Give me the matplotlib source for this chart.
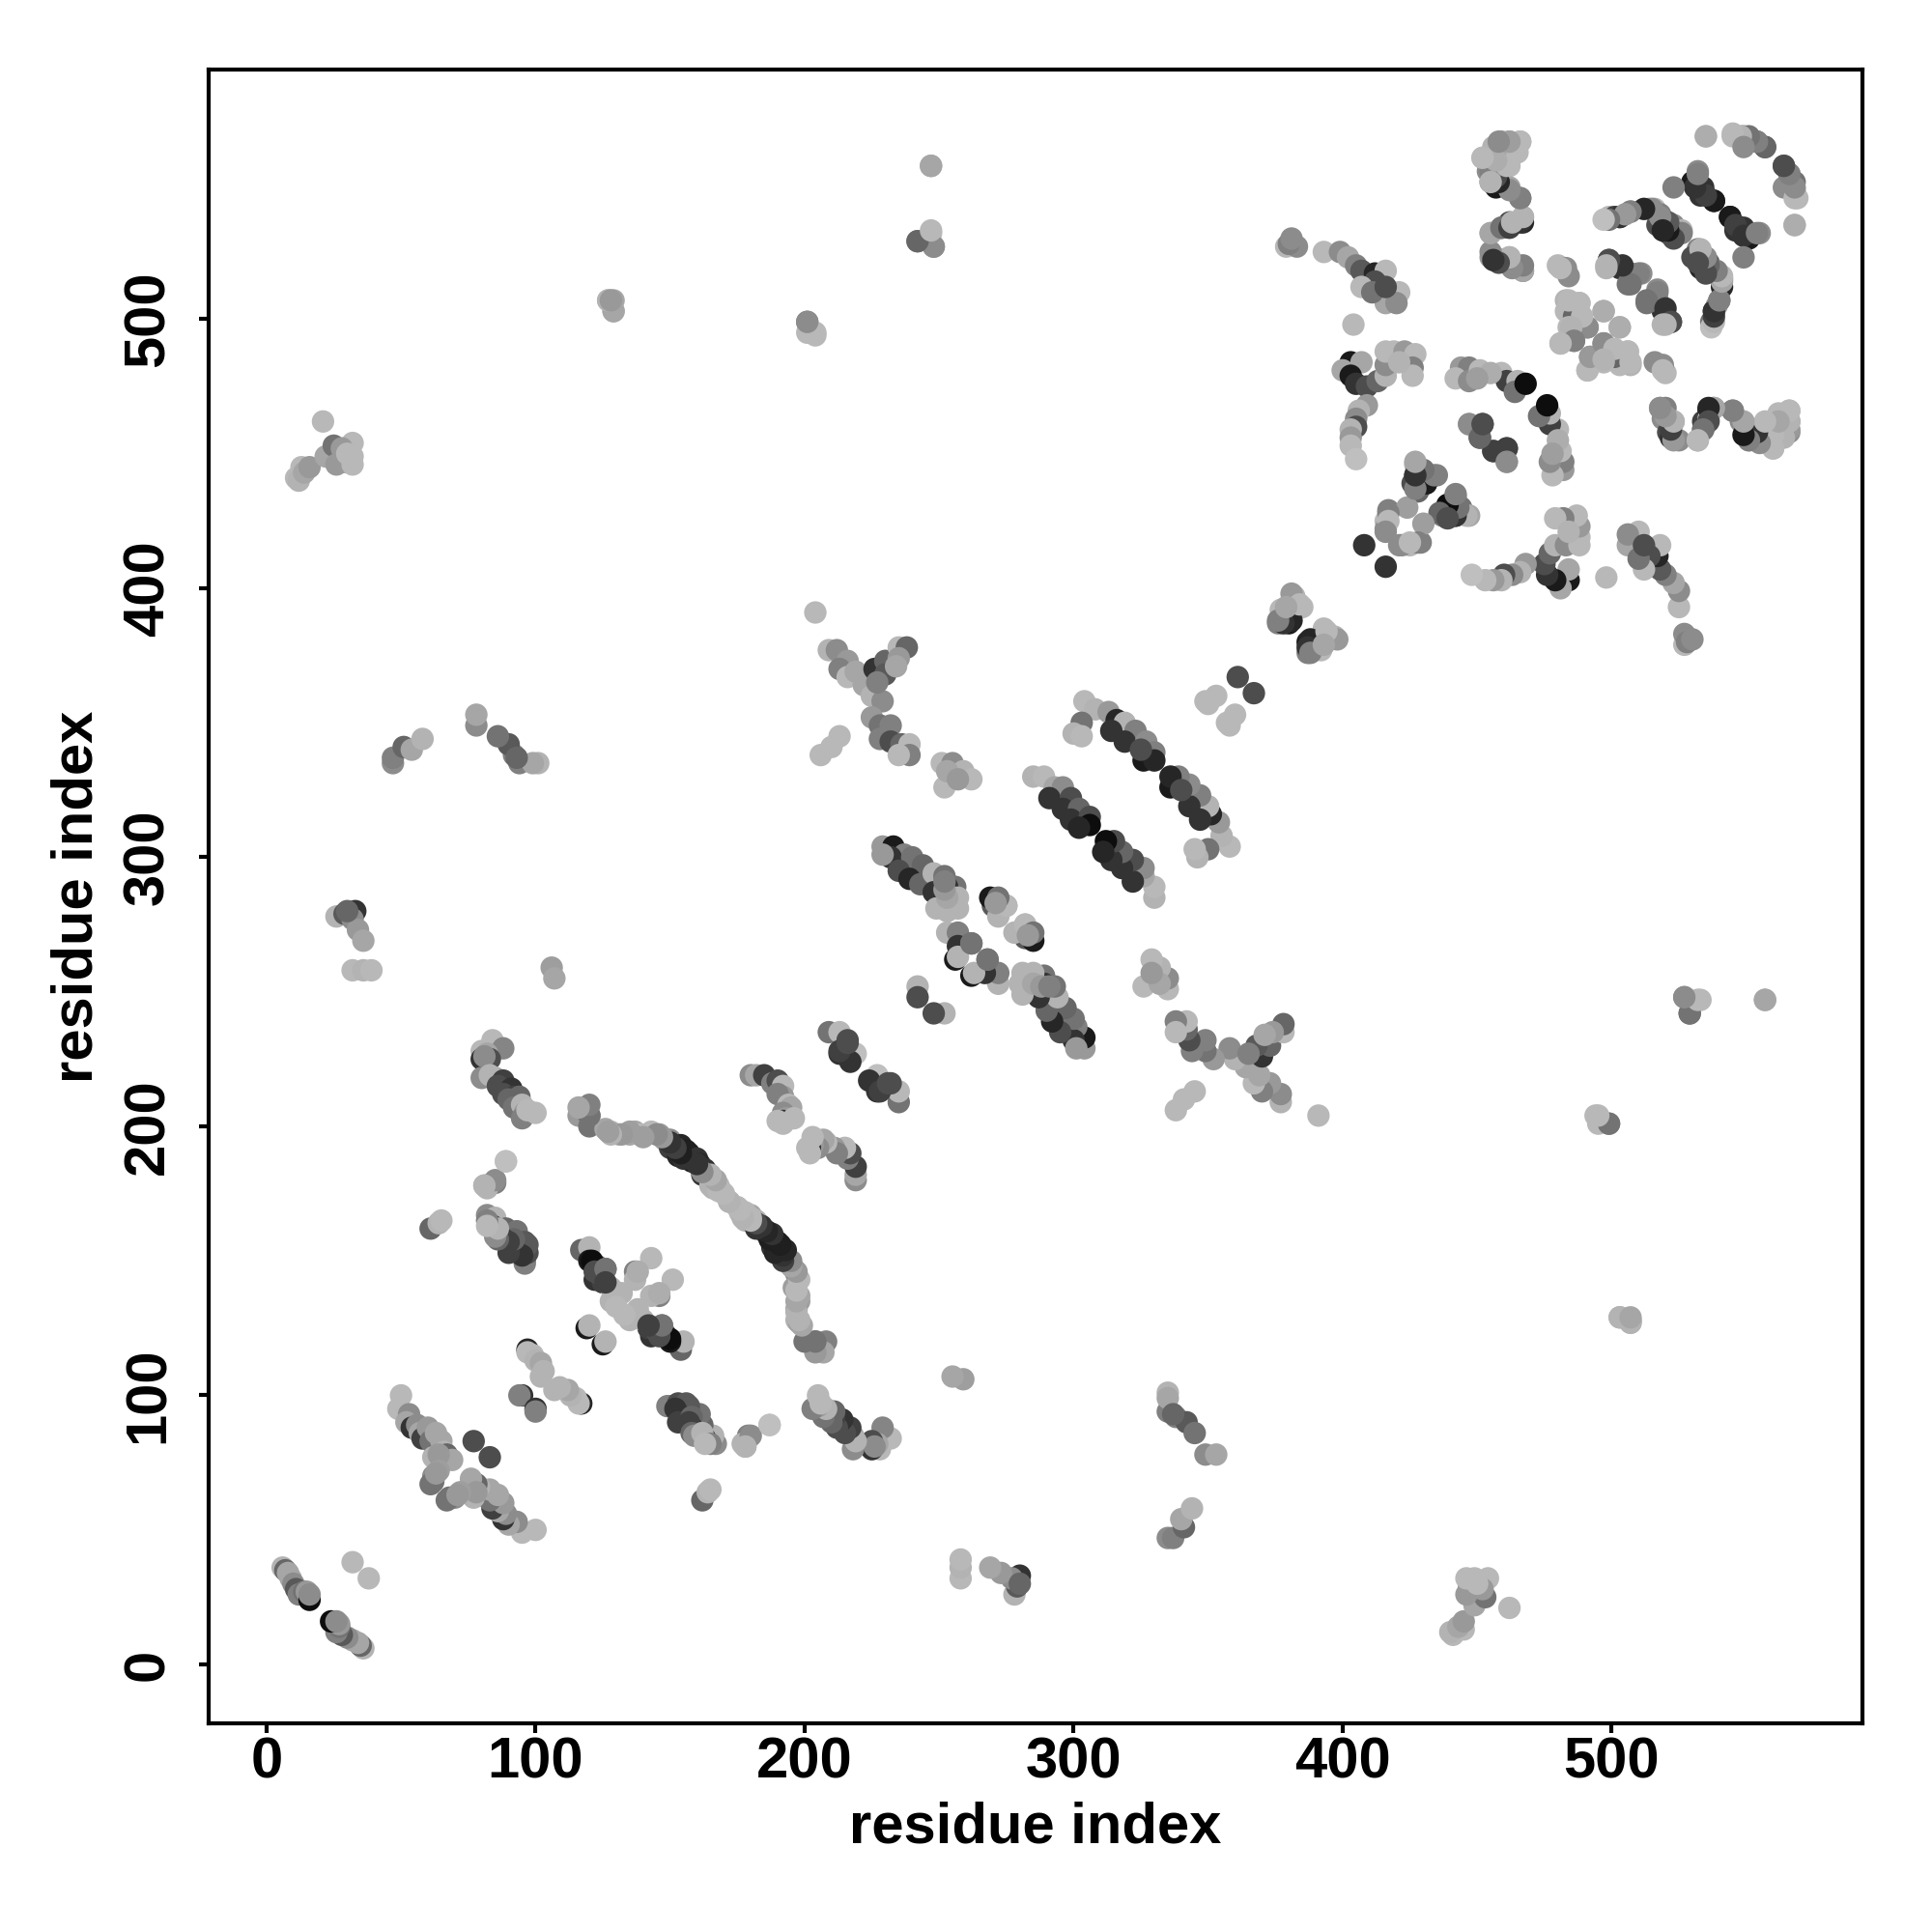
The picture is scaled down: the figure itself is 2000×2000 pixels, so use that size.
import numpy as np
import matplotlib
matplotlib.use("Agg")
import matplotlib.pyplot as plt

# Contact map: each entry is (residue a, residue b, grey level). The map is symmetric.
hairpin_start = [(6,36,.7),(7,35,.4),(8,34,.65),(9,32,.65),(10,30,.55),(11,28,.35),(12,26,.5),(14,27,.45),(15,27,.6),(16,24,.05),(16,26,.55),(32,38,.72)]
sheet_50_100 = [(50,100,.72),(49,95,.72),(53,93,.55),(52,90,.65),(54,88,.2),(56,89,.55),(57,86,.65),(58,84,.25),(60,88,.6),(61,83,.45),(63,86,.65),(65,83,.65),(66,79,.7),(67,78,.4),(69,76,.65),(62,77,.7),(64,78,.6),(62,70,.55),(61,67,.45),(64,72,.62),(62,68,.45),(63,71,.6),(77,83,.3)]
sheet_85_220 = [(84,232,.72),(88,229,.52),(80,228,.72),(82,227,.65),(80,225,.2),(83,225,.3),(81,226,.55),(80,218,.55),(85,218,.65),(83,219,.7),(88,217,.25),(86,215,.3),(91,214,.2),(88,212,.3),(92,211,.25),(94,211,.4),(90,210,.4),(92,207,.45),(95,208,.7),(96,205,.6),(95,203,.5),(97,206,.72),(100,205,.72)]
arc_120_165 = [(116,204,.6),(120,204,.45),(120,200,.45),(126,199,.65),(128,198,.7),(131,197,.7),(135,197,.65),(137,198,.65),(139,197,.72),(143,198,.72),(146,197,.6),(148,195,.65),(150,195,.55),(150,192,.25),(152,192,.2),(154,193,.15),(153,189,.15),(156,191,.12),(157,190,.12),(158,187,.12),(160,188,.2),(161,186,.15),(163,184,.2),(162,182,.2),(164,182,.3),(165,180,.72),(166,180,.72),(168,178,.72),(166,177,.7),(169,176,.72),(172,172,.7),(175,170,.72),(178,165,.7),(176,168,.72),(180,167,.65),(182,165,.7),(183,162,.55),(186,160,.2),(188,155,.2),(190,154,.12),(192,152,.25),(194,150,.2),(196,147,.6),(197,145,.55),(196,140,.62),(198,135,.62),(197,132,.6),(197,128,.7),(198,127,.62),(204,120,.45),(208,120,.5),(207,116,.65)]
sheet_150_90 = [(61,162,.4),(64,164,.7),(65,165,.72),(89,187,.75),(85,179,.5),(81,178,.7),(82,178,.65),(82,167,.55),(85,166,.7),(84,163,.2),(88,160,.05),(89,162,.4),(93,161,.45),(92,157,.2),(96,157,.35),(96,154,.45),(96,150,.5)]
sheet_120_150 = [(117,154,.4),(120,155,.7),(120,150,.1),(123,148,.3),(126,147,.5),(122,143,.2),(125,142,.25),(128,140,.7),(132,138,.7),(128,135,.7),(124,145,.35),(121,150,.05),(122,146,.3),(126,147,.45),(126,142,.25),(137,146,.5),(137,143,.7),(143,151,.72),(138,146,.68),(119,125,.1),(120,126,.7),(130,133,.72)]
sheet_96_117 = [(97,117,.15),(97,116,.72),(99,115,.72),(100,113,.7),(102,112,.65),(103,109,.7),(102,107,.7),(95,100,.2),(94,100,.5)]
sheet_90_160 = [(96,149,.5),(97,153,.3),(97,156,.35),(95,152,.2),(92,155,.2),(90,153,.25),(92,158,.4),(88,158,.1),(90,157,.25),(86,158,.4),(85,159,.55),(86,162,.7),(82,165,.5),(82,163,.72),(82,177,.7),(85,180,.55),(81,178,.7),(89,187,.75)]
x_210_378 = [(209,377,.7),(212,377,.55),(216,373,.6),(213,370,.5),(216,367,.72),(219,369,.65),(222,364,.65),(225,360,.7),(229,358,.55),(225,352,.6),(228,349,.45),(232,349,.5),(228,344,.5),(232,343,.3),(236,342,.4),(239,342,.72),(239,338,.5),(235,338,.72),(226,370,.2),(230,373,.4),(230,368,.35),(235,378,.72),(238,378,.4),(235,374,.6),(227,365,.5),(234,371,.65),(213,345,.72),(210,341,.72),(206,338,.72),(204,391,.72)]
patch_255_330 = [(251,335,.72),(255,335,.55),(259,332,.7),(262,329,.72),(252,326,.72),(253,332,.65),(257,329,.6)]
sheet_230_304 = [(229,304,.6),(233,304,.1),(237,301,.5),(232,300,.2),(240,300,.45),(244,297,.4),(235,295,.3),(239,292,.15),(243,290,.4),(248,294,.7),(252,293,.45),(256,289,.45),(253,289,.2),(257,285,.7),(248,287,.2),(257,281,.7),(249,281,.7),(253,280,.7),(253,285,.65),(252,288,.6),(252,291,.5),(229,301,.6)]
patch_270_285 = [(271,284,.45),(275,282,.72),(272,279,.65),(270,282,.35),(272,278,.7),(275,282,.72),(269,285,.1),(272,285,.45),(271,283,.6)]
cross_263 = [(253,272,.7),(257,272,.5),(257,267,.2),(262,268,.45),(256,262,.1),(257,263,.7),(262,268,.45),(242,252,.7),(242,248,.3)]
sheet_285_330 = [(285,330,.7),(289,330,.72),(293,326,.65),(296,326,.55),(291,322,.2),(299,322,.3),(296,318,.2),(302,318,.4),(299,314,.2),(306,315,.3),(306,312,.05),(302,311,.15)]
sheet_304_358 = [(304,358,.72),(308,355,.7),(313,354,.6),(316,351,.15),(319,350,.7),(314,347,.2),(323,347,.5),(319,343,.2),(327,343,.55),(330,339,.5),(326,336,.1),(330,336,.15),(325,340,.3),(303,350,.45),(300,346,.7),(303,345,.72)]
band_209_235 = [(209,235,.45),(213,235,.72),(216,232,.3),(213,227,.2),(216,228,.3),(219,227,.75),(217,224,.2),(213,228,.25),(216,231,.3)]
band_180_219 = [(180,219,.55),(182,219,.65),(185,219,.25),(188,216,.5),(190,217,.3),(192,215,.72),(192,211,.6),(190,212,.5),(194,208,.72),(195,207,.65),(192,205,.55),(193,203,.6),(192,202,.2),(196,203,.72),(190,202,.72),(192,201,.72)]
strand_349_368 = [(361,367,.3),(349,358,.72),(353,360,.72),(350,357,.72)]
patch_380_395 = [(382,397,.7),(385,393,.72),(377,392,.72),(380,390,.7),(380,387,.1),(376,387,.5),(381,398,.6),(381,388,.15),(378,387,.2),(376,388,.5),(384,394,.72),(379,393,.65)]
sheet_395_525 = [(379,527,.72),(383,527,.55),(393,525,.72),(399,525,.55),(402,523,.65),(405,520,.5),(407,518,.35),(412,517,.15),(416,518,.72),(412,514,.3),(414,510,.6),(421,510,.72),(416,506,.65),(420,506,.55),(407,512,.72),(411,510,.45),(416,512,.3),(404,498,.72),(380,528,.5),(381,530,.55)]
group_405_485 = [(403,484,.1),(407,484,.65),(400,481,.65),(403,479,.1),(405,476,.2),(409,475,.3),(413,477,.4),(416,479,.7),(416,483,.55),(416,488,.72),(419,488,.72),(423,488,.6),(427,487,.72),(426,482,.5),(426,479,.72),(421,484,.7)]
arc_405_465 = [(409,468,.6),(406,466,.7),(405,463,.55),(405,460,.3),(403,459,.7),(403,456,.6),(403,453,.72),(405,448,.75)]
group_430_445 = [(427,446,.7),(427,442,.2),(430,443,.45),(431,439,.05),(435,442,.5),(428,436,.4),(426,439,.3),(439,431,.1),(442,434,.5),(444,430,.45),(437,427,.5),(442,427,.2),(447,427,.65)]
inner_417_430 = [(417,429,.5),(424,430,.62),(416,425,.72),(416,422,.55),(417,428,.5),(408,416,.2),(421,416,.55),(417,425,.72)]
strand_444_480 = [(444,482,.6),(447,482,.5),(442,478,.72),(447,477,.55),(451,481,.72),(459,480,.72),(461,477,.25),(465,477,.7),(464,473,.45),(468,476,.05),(455,480,.68),(450,478,.62)]
inner_447_461 = [(447,461,.6),(452,461,.25),(451,456,.25),(447,461,.55),(456,451,.4),(461,452,.3)]
col_460_560 = [(459,566,.6),(462,566,.7),(466,566,.72),(456,564,.7),(452,560,.72),(457,560,.72),(462,562,.65),(454,555,.55),(458,554,.2),(462,557,.72),(455,551,.5),(457,549,.1),(462,549,.65),(466,545,.5),(467,538,.65),(467,536,.15),(462,536,.3),(459,534,.45),(455,532,.72),(455,523,.6),(459,522,.25),(462,523,.7),(464,520,.6),(467,518,.55),(480,520,.72),(483,519,.55)]
group_485_505 = [(483,507,.7),(488,506,.72),(483,503,.72),(497,503,.68),(486,501,.4),(488,498,.7),(491,497,.55),(484,497,.72),(497,503,.68),(481,491,.72),(486,492,.6),(491,497,.55),(489,501,.72),(488,506,.72),(492,486,.5),(491,481,.72),(485,497,.7),(484,507,.72),(484,516,.55),(481,519,.72)]
sheet_498_520 = [(499,522,.3),(503,519,.2),(507,517,.5),(511,517,.55),(506,513,.45),(510,517,.5),(507,513,.45),(504,520,.2),(499,522,.3),(498,520,.7),(498,519,.7)]
arc_500_540 = [(499,538,.72),(501,538,.25),(503,538,.2),(507,540,.5),(514,541,.65),(516,541,.72),(518,539,.5),(520,536,.4),(517,535,.3),(523,535,.55),(526,533,.7),(521,532,.3)]
strand_530_555 = [(532,555,.55),(530,551,.1),(534,549,.2),(533,546,.2),(538,544,.1),(538,544,.1),(535,546,.25),(531,549,.2),(532,554,.5)]
strand_502_532 = [(532,526,.5),(530,523,.3),(533,521,.1),(536,521,.35),(538,518,.55),(533,519,.15),(541,515,.55),(541,512,.15),(540,507,.5),(538,503,.2),(539,505,.6),(537,499,.45),(537,497,.75)]
top_right = [(535,568,.72),(545,568,.72),(549,568,.55),(551,566,.55),(554,566,.5),(557,564,.3),(564,557,.4),(566,554,.5),(568,551,.45),(568,548,.7),(569,545,.72),(564,549,.55),(535,568,.68),(523,549,.5)]
wave_460 = [(518,467,.65),(520,467,.5),(519,463,.55),(523,462,.7),(521,458,.3),(525,455,.55),(522,456,.2),(532,455,.65),(534,459,.45),(534,462,.25),(536,466,.2),(538,467,.7),(536,463,.7),(545,466,.5),(548,462,.55),(551,458,.15),(553,457,.3),(555,455,.5),(551,455,.7),(557,461,.72),(559,457,.68),(560,452,.72),(562,465,.72),(566,466,.72),(566,462,.62),(566,458,.55)]
far_20_450 = [(21,462,.72),(13,445,.72),(11,441,.72),(12,440,.7),(14,443,.65),(16,445,.6),(22,449,.65),(25,453,.45),(32,454,.72),(29,447,.5),(26,446,.6),(32,449,.72),(32,446,.72),(28,452,.6),(30,450,.72)]
far_127_507 = [(127,507,.7),(129,503,.7),(129,507,.65)]
far_200_500 = [(201,499,.45),(204,495,.72)]
far_247_530 = [(247,557,.65),(242,529,.45),(247,532,.72),(248,527,.55)]
far_50_340 = [(47,335,.55),(47,337,.5),(51,341,.4),(54,340,.65),(58,344,.7)]
far_78_350 = [(101,335,.7),(94,335,.5),(92,338,.5),(90,342,.35),(86,345,.45),(78,349,.55),(78,353,.65),(99,335,.65),(93,337,.4)]
far_30_270 = [(26,278,.7),(29,279,.35),(33,280,.2),(32,277,.55),(34,273,.6),(36,269,.65),(32,258,.72),(36,258,.7),(39,258,.72),(30,280,.4)]
far_107_258 = [(106,259,.62),(107,255,.65)]
far_247_530b = [(527,248,.55),(529,242,.4),(533,247,.72),(557,247,.65)]
far_200_495 = [(494,204,.72),(495,201,.72),(499,201,.55)]
far_128_505 = [(503,129,.65),(507,127,.7),(507,128,.6)]

contact_blocks = [hairpin_start, sheet_50_100, sheet_85_220, arc_120_165, sheet_150_90, sheet_120_150,
                  sheet_96_117, sheet_90_160, x_210_378, patch_255_330, sheet_230_304, patch_270_285,
                  cross_263, sheet_285_330, sheet_304_358, band_209_235, band_180_219, strand_349_368,
                  patch_380_395, sheet_395_525, group_405_485, arc_405_465, group_430_445, inner_417_430,
                  strand_444_480, inner_447_461, col_460_560, group_485_505, sheet_498_520, arc_500_540,
                  strand_530_555, strand_502_532, top_right, wave_460, far_20_450, far_127_507, far_200_500,
                  far_247_530, far_50_340, far_78_350, far_30_270, far_107_258, far_247_530b, far_200_495,
                  far_128_505]
tick_values = [0, 100, 200, 300, 400, 500]
axis_label = "residue index"

plt.rcParams['font.family'] = ['Liberation Sans', 'DejaVu Sans']
fig = plt.figure(figsize=(20, 20), dpi=100)
L, R, T, B = 216, 1928, 72, 1784
ax = fig.add_axes([L/2000, 1-B/2000, (R-L)/2000, (B-T)/2000])

contacts = np.array([c for block in contact_blocks for c in block])
xs = np.concatenate([contacts[:, 0], contacts[:, 1]])
ys = np.concatenate([contacts[:, 1], contacts[:, 0]])
gs = np.concatenate([contacts[:, 2], contacts[:, 2]])
ax.scatter(xs, ys, s=280, c=[str(g) for g in gs], linewidths=0, zorder=3)

ax.set_xlim(-21.5, 593.2)
ax.set_ylim(-21.9, 592.8)
ax.set_xticks(tick_values)
ax.set_yticks(tick_values)
ax.tick_params(axis='both', length=7, width=3.0, labelsize=43)
ax.tick_params(axis='x', pad=3)
ax.tick_params(axis='y', pad=18)
for lab in ax.get_xticklabels() + ax.get_yticklabels():
    lab.set_fontweight('bold')
for lab in ax.get_yticklabels():
    lab.set_rotation(90)
    lab.set_va('center')
for s in ax.spines.values():
    s.set_linewidth(3.0)
ax.set_xlabel(axis_label, fontsize=43, fontweight='bold', va='center')
ax.set_ylabel(axis_label, fontsize=43, fontweight='bold', va='center')
ax.xaxis.set_label_coords(0.5, -(1892-B)/(R-L))
ax.yaxis.set_label_coords((80-L)/(R-L), 0.5)
fig.savefig("out.png", dpi=100, facecolor='white')
